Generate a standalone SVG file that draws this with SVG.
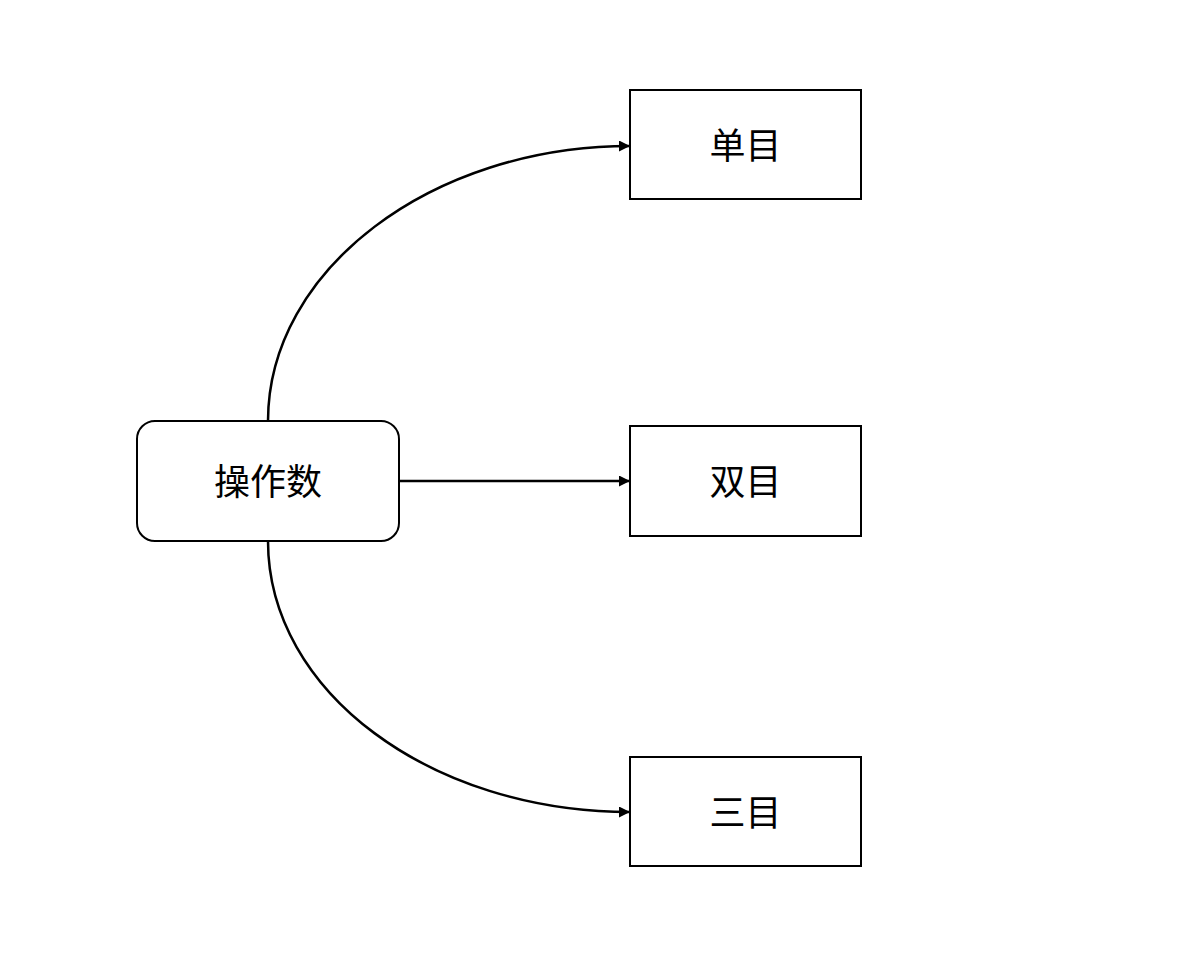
<svg xmlns="http://www.w3.org/2000/svg" width="1188" height="957" viewBox="0 0 1188 957">
<style>
.box{fill:#fff;stroke:#000;stroke-width:2}
.lbl{font-family:"Noto Sans CJK SC","Noto Sans",sans-serif;font-size:36px;fill:#000;text-anchor:middle;dominant-baseline:central}
.edge{fill:none;stroke:#000;stroke-width:2.5}
</style>
<defs>
<marker id="arr" markerWidth="12" markerHeight="12" refX="11" refY="5.5" orient="auto" markerUnits="userSpaceOnUse">
<path d="M0,0 L11,5.5 L0,11 Z" fill="#000"/>
</marker>
</defs>
<rect width="1188" height="957" fill="#fff"/>
<g id="connectors">
<path class="edge" d="M268,421 C268,270 431,146 630,146" marker-end="url(#arr)"/>
<path class="edge" d="M399,481 L630,481" marker-end="url(#arr)"/>
<path class="edge" d="M268,541 C268,692 431,812 630,812" marker-end="url(#arr)"/>
</g>
<g id="node-operand">
<rect class="box" x="137" y="421" width="262" height="120" rx="18"/>
<text class="lbl" x="268" y="479">操作数</text>
</g>
<g id="node-unary">
<rect class="box" x="630" y="90" width="231" height="109"/>
<text class="lbl" x="745.5" y="143">单目</text>
</g>
<g id="node-binary">
<rect class="box" x="630" y="426" width="231" height="110"/>
<text class="lbl" x="745.5" y="479">双目</text>
</g>
<g id="node-ternary">
<rect class="box" x="630" y="757" width="231" height="109"/>
<text class="lbl" x="745.5" y="810">三目</text>
</g>
</svg>
